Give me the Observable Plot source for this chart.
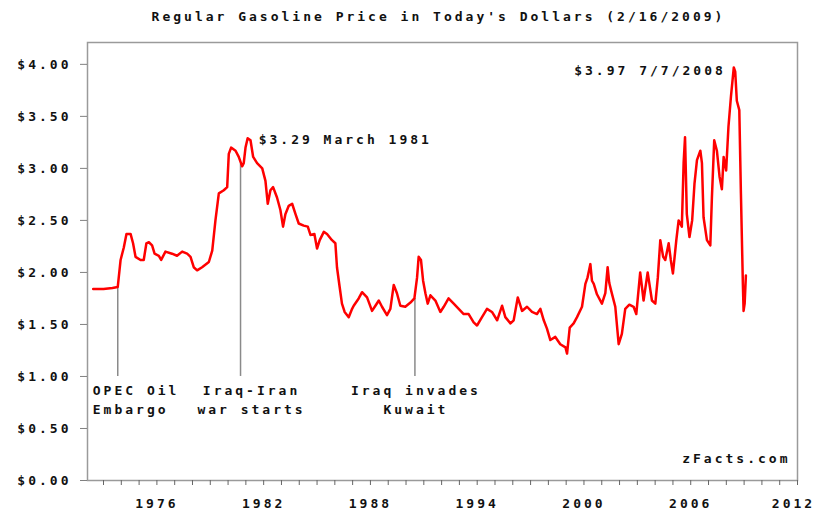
<!DOCTYPE html>
<html>
<head>
<meta charset="utf-8">
<script src="https://cdn.jsdelivr.net/npm/d3@7"></script>
<script src="https://cdn.jsdelivr.net/npm/@observablehq/plot@0.6"></script>
<style>
  body { margin: 0; background: #fff; }
  #title {
    box-sizing: border-box; width: 817px; height: 32px;
    padding-left: 60px; text-align: center;
    font: bold 13px "DejaVu Sans Mono", monospace; line-height: 34px; letter-spacing: 3px; color: #111;
  }
</style>
</head>
<body>
<div id="title">Regular Gasoline Price in Today's Dollars (2/16/2009)</div>
<div id="chart"></div>
<script>
// Decimal year and price (in 2009 dollars)
const years = [1972.42,1973.0,1973.5,1973.8,1973.96,1974.14,1974.29,1974.52,1974.66,1974.8,1975.08,1975.26,1975.41,1975.55,1975.73,1975.87,1976.11,1976.24,1976.48,1976.85,1977.13,1977.42,1977.7,1977.89,1978.07,1978.26,1978.54,1978.92,1979.11,1979.29,1979.48,1979.76,1979.95,1980.04,1980.17,1980.42,1980.6,1980.79,1980.88,1980.98,1981.1,1981.26,1981.41,1981.63,1981.92,1982.1,1982.23,1982.38,1982.53,1982.75,1982.94,1983.09,1983.22,1983.41,1983.6,1983.79,1983.97,1984.25,1984.48,1984.63,1984.85,1985.0,1985.15,1985.38,1985.56,1985.84,1986.03,1986.12,1986.27,1986.4,1986.55,1986.78,1986.97,1987.06,1987.34,1987.53,1987.81,1988.09,1988.28,1988.47,1988.65,1988.93,1989.12,1989.31,1989.49,1989.68,1989.96,1990.25,1990.47,1990.62,1990.71,1990.84,1990.96,1991.09,1991.22,1991.37,1991.65,1991.93,1992.12,1992.39,1992.68,1992.96,1993.24,1993.52,1993.8,1993.99,1994.27,1994.55,1994.83,1995.12,1995.4,1995.58,1995.87,1996.05,1996.28,1996.52,1996.8,1997.08,1997.36,1997.55,1997.74,1997.92,1998.11,1998.39,1998.67,1998.96,1999.05,1999.2,1999.42,1999.61,1999.89,2000.08,2000.2,2000.36,2000.45,2000.55,2000.73,2001.01,2001.2,2001.33,2001.42,2001.52,2001.76,2001.95,2002.13,2002.32,2002.55,2002.79,2002.94,2003.16,2003.35,2003.58,2003.82,2004.01,2004.15,2004.29,2004.45,2004.57,2004.76,2004.88,2005.0,2005.19,2005.32,2005.5,2005.6,2005.68,2005.78,2005.93,2006.08,2006.21,2006.35,2006.54,2006.63,2006.72,2006.91,2007.1,2007.19,2007.32,2007.47,2007.62,2007.75,2007.85,2007.99,2008.12,2008.26,2008.42,2008.5,2008.59,2008.73,2008.82,2008.93,2008.97,2009.03,2009.1];
const prices = [1.84,1.84,1.85,1.86,2.12,2.24,2.37,2.37,2.28,2.15,2.12,2.12,2.28,2.29,2.26,2.18,2.16,2.12,2.20,2.18,2.16,2.20,2.18,2.15,2.05,2.02,2.05,2.10,2.21,2.50,2.76,2.79,2.82,3.14,3.20,3.17,3.11,3.02,3.05,3.20,3.29,3.27,3.11,3.05,3.00,2.88,2.66,2.79,2.82,2.72,2.60,2.44,2.56,2.64,2.66,2.56,2.47,2.45,2.44,2.36,2.37,2.23,2.31,2.39,2.37,2.31,2.28,2.05,1.86,1.70,1.62,1.57,1.65,1.68,1.75,1.81,1.76,1.63,1.68,1.73,1.67,1.59,1.65,1.88,1.80,1.68,1.67,1.71,1.75,1.95,2.15,2.12,1.92,1.80,1.70,1.78,1.73,1.62,1.67,1.75,1.70,1.65,1.60,1.60,1.52,1.49,1.57,1.65,1.62,1.54,1.68,1.57,1.51,1.54,1.76,1.63,1.67,1.62,1.60,1.65,1.54,1.46,1.35,1.38,1.31,1.28,1.22,1.47,1.51,1.57,1.67,1.89,1.95,2.08,1.92,1.89,1.79,1.70,1.80,2.05,1.90,1.83,1.67,1.31,1.41,1.65,1.69,1.67,1.60,2.00,1.73,2.00,1.73,1.70,1.95,2.31,2.15,2.12,2.28,2.12,1.99,2.31,2.50,2.44,3.05,3.30,2.56,2.34,2.50,2.85,3.08,3.17,3.05,2.53,2.31,2.26,2.72,3.27,3.17,2.92,2.80,3.11,2.98,3.40,3.69,3.97,3.93,3.65,3.56,2.76,1.89,1.63,1.70,1.97];

// Events marked with a vertical line down to $1.00
const eventYears = [1973.8, 1980.7, 1990.5];
const eventPrices = [1.86, 3.04, 1.75];
const eventLabels = ["OPEC Oil\nEmbargo", "Iraq-Iran\nwar starts", "Iraq invades\nKuwait"];

// Peak call-outs
const peakYears = [1981.1, 2008.42];
const peakPrices = [3.29, 3.97];
const peakLabels = ["$3.29 March 1981", "$3.97 7/7/2008"];

const yTicks = [0, 0.5, 1, 1.5, 2, 2.5, 3, 3.5, 4];
const xLabelYears = [1976, 1982, 1988, 1994, 2000, 2006];
const xLastLabelYear = [2012];
const xMinorYears = d3.range(1973, 2013);
const credit = "zFacts.com";

const series = years.map((x, i) => ({x, y: prices[i]}));
const events = eventYears.map((x, i) => ({x, y: eventPrices[i], label: eventLabels[i]}));
const peaks = peakYears.map((x, i) => ({x, y: peakPrices[i], label: peakLabels[i]}));

const chart = Plot.plot({
  width: 817,
  height: 479,
  marginTop: 10,
  marginBottom: 31,
  marginLeft: 87,
  marginRight: 20,
  x: {domain: [1972.1, 2012], label: null},
  y: {domain: [0, 4.21], label: null},
  style: {
    fontFamily: "'DejaVu Sans Mono', monospace",
    fontSize: "13px",
    fontWeight: "bold",
    letterSpacing: "3px",
    color: "#111",
    background: "#fff",
    overflow: "visible"
  },
  marks: [
    Plot.frame({stroke: "#9a9a9a", strokeWidth: 1.5}),
    Plot.axisY({ticks: yTicks, tickFormat: d => "$" + d.toFixed(2), tickSize: 7, tickPadding: 9,
      stroke: "#808080", fill: "#111", label: null}),
    Plot.axisX({ticks: xMinorYears, tickFormat: () => "", tickSize: 5, stroke: "#666", label: null}),
    Plot.axisX({ticks: xLabelYears, tickFormat: "d", tickSize: 0, tickPadding: 18, fill: "#111", label: null}),
    Plot.axisX({ticks: xLastLabelYear, tickFormat: "d", tickSize: 0, tickPadding: 18, dx: -4, fill: "#111", label: null}),
    Plot.ruleX(events, {x: "x", y1: 1.0, y2: "y", stroke: "#8a8a8a", strokeWidth: 1.5}),
    Plot.line(series, {x: "x", y: "y", stroke: "#ff0000", strokeWidth: 2.5}),
    Plot.text(events.slice(0, 1), {x: "x", y: 1.0, text: "label", textAnchor: "start", lineAnchor: "top",
      dx: -25, dy: 6, lineHeight: 1.4, fill: "#111"}),
    Plot.text(events.slice(1, 2), {x: "x", y: 1.0, text: "label", textAnchor: "middle", lineAnchor: "top",
      dx: 11, dy: 6, lineHeight: 1.4, fill: "#111"}),
    Plot.text(events.slice(2, 3), {x: "x", y: 1.0, text: "label", textAnchor: "middle", lineAnchor: "top",
      dx: 1, dy: 6, lineHeight: 1.4, fill: "#111"}),
    Plot.text(peaks.slice(0, 1), {x: "x", y: "y", text: "label", textAnchor: "start", dx: 11, dy: 2, fill: "#111"}),
    Plot.text(peaks.slice(1, 2), {x: "x", y: "y", text: "label", textAnchor: "end", dx: -8, dy: 3, fill: "#111"}),
    Plot.text([credit], {frameAnchor: "bottom-right", text: d => d, textAnchor: "end", dx: -7, dy: -18, fill: "#111"})
  ]
});
document.getElementById("chart").appendChild(chart);
</script>
</body>
</html>
